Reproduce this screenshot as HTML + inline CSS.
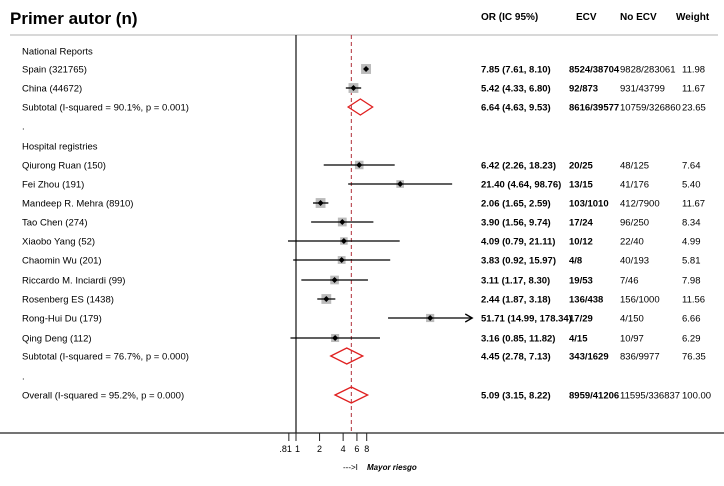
<!DOCTYPE html>
<html><head><meta charset="utf-8"><style>
body{margin:0;background:#fff;font-family:"Liberation Sans",Arial,sans-serif}
svg text{font-family:"Liberation Sans",Arial,sans-serif}
</style></head><body>
<svg id="plot" width="724" height="481" xmlns="http://www.w3.org/2000/svg">
<text x="10" y="24" font-size="17" font-weight="bold">Primer autor (n)</text>
<text x="481" y="20" font-size="10" font-weight="bold">OR (IC 95%)</text>
<text x="576" y="20" font-size="10" font-weight="bold">ECV</text>
<text x="620" y="20" font-size="10" font-weight="bold">No ECV</text>
<text x="676" y="20" font-size="10" font-weight="bold">Weight</text>
<line x1="10" y1="35" x2="718" y2="35" stroke="#ccc" stroke-width="1.5"/>
<g id="rows"></g>
</svg>
<script>
const labels=["National Reports","Spain (321765)","China (44672)","Subtotal  (I-squared = 90.1%, p = 0.001)",".","Hospital registries","Qiurong Ruan (150)","Fei Zhou (191)","Mandeep R. Mehra (8910)","Tao Chen (274)","Xiaobo Yang (52)","Chaomin Wu (201)","Riccardo M. Inciardi (99)","Rosenberg ES (1438)","Rong-Hui Du (179)","Qing Deng (112)","Subtotal  (I-squared = 76.7%, p = 0.000)",".","Overall  (I-squared = 95.2%, p = 0.000)"];
const kinds=["h","s","s","d","h","h","s","s","s","s","s","s","s","s","s","s","d","h","d"];
const orVals=[null,7.85,5.42,6.64,null,null,6.42,21.40,2.06,3.90,4.09,3.83,3.11,2.44,51.71,3.16,4.45,null,5.09];
const loVals=[null,7.61,4.33,4.63,null,null,2.26,4.64,1.65,1.56,0.79,0.92,1.17,1.87,14.99,0.85,2.78,null,3.15];
const hiVals=[null,8.10,6.80,9.53,null,null,18.23,98.76,2.59,9.74,21.11,15.97,8.30,3.18,178.34,11.82,7.13,null,8.22];
const ecv=["","8524/38704","92/873","8616/39577","","","20/25","13/15","103/1010","17/24","10/12","4/8","19/53","136/438","17/29","4/15","343/1629","","8959/41206"];
const noEcv=["","9828/283061","931/43799","10759/326860","","","48/125","41/176","412/7900","96/250","22/40","40/193","7/46","156/1000","4/150","10/97","836/9977","","11595/336837"];
const weights=[null,11.98,11.67,23.65,null,null,7.64,5.40,11.67,8.34,4.99,5.81,7.98,11.56,6.66,6.29,76.35,null,100.00];
const ticks=[0.81,1,2,4,6,8];
const tickLabels=[".81","1","2","4","6","8"];
const overall=5.09;
const clipMax=178.34;

const NS="http://www.w3.org/2000/svg";
const g=document.getElementById('rows');
const x=v=>296+34*Math.log(v);
const rowY=i=>[51,69,88,107,126,146,165,184,203,222,241,260,280,299,318,338,356,376,395][i]||51+i*19.1;
function mk(tag,attrs,parent){const e=document.createElementNS(NS,tag);for(const k in attrs)e.setAttribute(k,attrs[k]);(parent||g).appendChild(e);return e;}
function txt(s,xx,yy,size,bold,parent){const t=mk('text',{x:xx,y:yy,'font-size':size,'font-weight':bold?'bold':'normal'},parent);t.textContent=s;return t;}

const nl=mk('line',{x1:296,y1:35,x2:296,y2:433,stroke:'#222','stroke-width':1.3});


const ol=mk('line',{x1:x(overall),y1:35,x2:x(overall),y2:433,stroke:'#b0303a','stroke-width':1,'stroke-dasharray':'4,3'});


const ax=mk('line',{x1:0,y1:433,x2:724,y2:433,stroke:'#222','stroke-width':1.3});


ticks.forEach((t,i)=>{
  const tk=mk('line',{x1:x(t),y1:433,x2:x(t),y2:441,stroke:'#222','stroke-width':1});
  
  
  const lb=txt(tickLabels[i],x(t),452,9,false);
  lb.setAttribute('text-anchor',i===0?'end':(i===1?'start':'middle'));
  if(i===0)lb.setAttribute('x',x(t)+3);
  if(i===1)lb.setAttribute('x',x(t)-1);
  
  
});
const ar=txt('--->I ',343,470,8,false);


const mr=txt('Mayor riesgo',367,470,8,true);
mr.setAttribute('font-style','italic');



labels.forEach((l,i)=>{
  const y=rowY(i);
  const lt=txt(l,22,y+3.5,9.5,false);
  
  
  if(orVals[i]==null)return;
  const k=kinds[i];
  if(k==='s'){
    const sz=3+Math.sqrt(weights[i])*2;
    const bx=mk('rect',{x:x(orVals[i])-sz/2,y:y-sz/2,width:sz,height:sz,fill:'#bbb'});
    
    
    const hi=Math.min(hiVals[i],clipMax);
    const ci=mk('line',{x1:x(loVals[i]),y1:y,x2:x(hi),y2:y,stroke:'#000','stroke-width':1.3});
    
    
    if(hiVals[i]>100){
      const ah=mk('path',{d:`M${x(hi)-7},${y-4} L${x(hi)},${y} L${x(hi)-7},${y+4}`,fill:'none',stroke:'#000','stroke-width':1.3});
      
      
    }
    const pt=mk('path',{d:`M${x(orVals[i])},${y-3} L${x(orVals[i])+3},${y} L${x(orVals[i])},${y+3} L${x(orVals[i])-3},${y}Z`,fill:'#000'});
    
    
  } else {
    const dm=mk('path',{d:`M${x(loVals[i])},${y} L${x(orVals[i])},${y-8} L${x(hiVals[i])},${y} L${x(orVals[i])},${y+8}Z`,fill:'none',stroke:'#e02020','stroke-width':1.3});
    
    
  }
  const f=v=>v.toFixed(2);
  const o=txt(`${f(orVals[i])} (${f(loVals[i])}, ${f(hiVals[i])})`,481,y+3.5,9.5,true);
  
  
  const e=txt(ecv[i],569,y+3.5,9.5,true);
  
  
  const ne=txt(noEcv[i],620,y+3.5,9.5,false);
  
  
  const w=txt(f(weights[i]),682,y+3.5,9.5,false);
  
  
});
</script>
</body></html>
